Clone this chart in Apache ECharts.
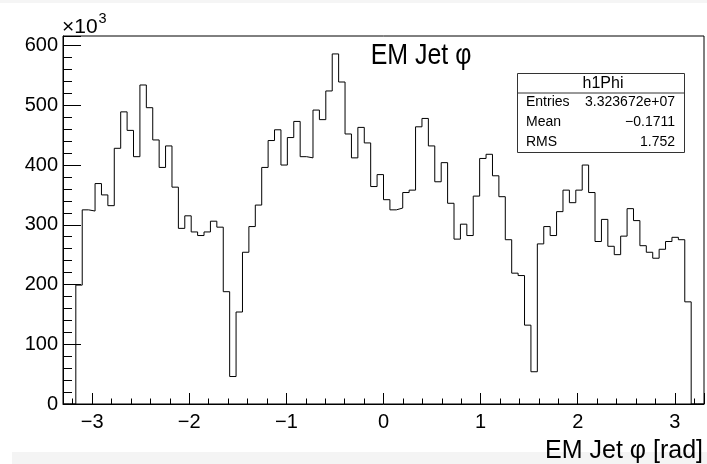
<!DOCTYPE html>
<html><head><meta charset="utf-8">
<script src="https://cdn.jsdelivr.net/npm/echarts@6/dist/echarts.min.js"></script>
<style>html,body{margin:0;padding:0;background:#fff}#c{width:707px;height:464px}</style>
</head><body><div id="c"></div>
<script>
// ---- data ----
const chartTitle = 'EM Jet \u03c6';
const xAxisTitle = 'EM Jet \u03c6 [rad]';
const yScaleBase = '\u00d710';
const yScaleExp = '3';
const binLow = -3.3;
const binHigh = 3.3;
// bin contents in units of 10^3 entries (100 bins)
const binCounts = [
  0, 0, 199, 325, 323, 369, 350, 332, 428, 489,
  458, 414, 534, 496, 442, 396, 432, 363, 294, 315,
  288, 282, 288, 306, 296, 188, 46, 154, 254, 297,
  333, 396, 441, 459, 400, 446, 473, 414, 412, 492,
  476, 524, 586, 539, 452, 412, 463, 437, 364, 384,
  342, 325, 328, 354, 358, 464, 478, 432, 372, 404,
  336, 276, 301, 282, 348, 411, 418, 382, 347, 275,
  219, 215, 132, 54, 268, 297, 282, 322, 358, 337,
  358, 400, 354, 272, 309, 264, 250, 281, 327, 307,
  265, 254, 244, 259, 272, 279, 275, 171, 0, 0
];
const yMax = 616;
const yTickStep = 100;
const statsName = 'h1Phi';
const statsLabels = ['Entries', 'Mean', 'RMS'];
const statsValues = ['3.323672e+07', '\u22120.1711', '1.752'];

// ---- build ----
const nb = binCounts.length;
const bw = (binHigh - binLow) / nb;
const stepData = binCounts.map((v, i) => [binLow + i * bw, v]);
stepData.push([binHigh, binCounts[nb - 1]]);

const FONT = '"Liberation Sans", Arial, Helvetica, sans-serif';
const minus = v => String(Math.round(v * 1000) / 1000).replace('-', '\u2212');

const chart = echarts.init(document.getElementById('c'), null, {renderer: 'canvas'});
const boxX = 517, boxY = 73, boxW = 167, boxH = 79, headH = 19.5;
const graphics = [
  {type: 'rect', silent: true, z: -10, shape: {x: 0, y: 0, width: 707, height: 3}, style: {fill: '#f5f5f5'}},
  {type: 'rect', silent: true, z: -10, shape: {x: 12, y: 452, width: 695, height: 12}, style: {fill: '#f4f4f4'}},
  {type: 'text', x: 421, y: 56, scaleX: 0.86, style: {text: chartTitle, font: '29px ' + FONT, fill: '#000', textAlign: 'center', textVerticalAlign: 'middle'}},
  {type: 'text', x: 703, y: 451, style: {text: xAxisTitle, font: '25px ' + FONT, fill: '#000', textAlign: 'right', textVerticalAlign: 'middle'}},
  {type: 'text', x: 62, y: 27, style: {text: yScaleBase, font: '21px ' + FONT, fill: '#000', textAlign: 'left', textVerticalAlign: 'middle'}},
  {type: 'text', x: 98.5, y: 19, style: {text: yScaleExp, font: '14.5px ' + FONT, fill: '#000', textAlign: 'left', textVerticalAlign: 'middle'}},
  {type: 'rect', z: 10, shape: {x: boxX + 0.5, y: boxY + 0.5, width: boxW, height: boxH}, style: {fill: '#fff', stroke: '#333', lineWidth: 1}},
  {type: 'line', z: 11, shape: {x1: boxX, y1: boxY + headH + 0.5, x2: boxX + boxW, y2: boxY + headH + 0.5}, style: {stroke: '#333', lineWidth: 1}},
  {type: 'text', z: 11, x: 603, y: boxY + 10.5, style: {text: statsName, font: '16px ' + FONT, fill: '#000', textAlign: 'center', textVerticalAlign: 'middle'}}
];
statsLabels.forEach((lab, i) => {
  const yy = boxY + 29.5 + i * 20;
  graphics.push({type: 'text', z: 11, x: 526, y: yy, style: {text: lab, font: '14px ' + FONT, fill: '#000', textAlign: 'left', textVerticalAlign: 'middle'}});
  graphics.push({type: 'text', z: 11, x: 675, y: yy, style: {text: statsValues[i], font: '14px ' + FONT, fill: '#000', textAlign: 'right', textVerticalAlign: 'middle'}});
});

chart.setOption({
  animation: false,
  backgroundColor: '#fff',
  grid: {left: 63, right: 3, top: 36, bottom: 60, show: true, borderColor: '#000', borderWidth: 1, backgroundColor: 'transparent', outerBoundsMode: 'none'},
  xAxis: {
    type: 'value', min: binLow, max: binHigh,
    axisLine: {show: true, onZero: false, lineStyle: {color: '#000', width: 1}},
    axisTick: {show: true, inside: true, length: 11, lineStyle: {color: '#000', width: 1}},
    minorTick: {show: true, splitNumber: 5, length: 5.5, lineStyle: {color: '#000', width: 1}},
    splitLine: {show: false}, minorSplitLine: {show: false},
    axisLabel: {show: true, showMinLabel: false, showMaxLabel: false, color: '#000', fontSize: 20, fontFamily: FONT, margin: 8, formatter: minus}
  },
  yAxis: {
    type: 'value', min: 0, max: yMax, interval: yTickStep,
    axisLine: {show: true, onZero: false, lineStyle: {color: '#000', width: 1}},
    axisTick: {show: true, inside: true, length: 18, lineStyle: {color: '#000', width: 1}},
    minorTick: {show: true, splitNumber: 5, length: 9, lineStyle: {color: '#000', width: 1}},
    splitLine: {show: false}, minorSplitLine: {show: false},
    axisLabel: {show: true, showMaxLabel: false, color: '#000', fontSize: 20, fontFamily: FONT, margin: 5, formatter: minus}
  },
  series: [{
    type: 'line', step: 'end', data: stepData, symbol: 'none', showSymbol: false,
    lineStyle: {color: '#000', width: 1}, clip: true, silent: true
  }],
  graphic: graphics
});
</script>
</body></html>
